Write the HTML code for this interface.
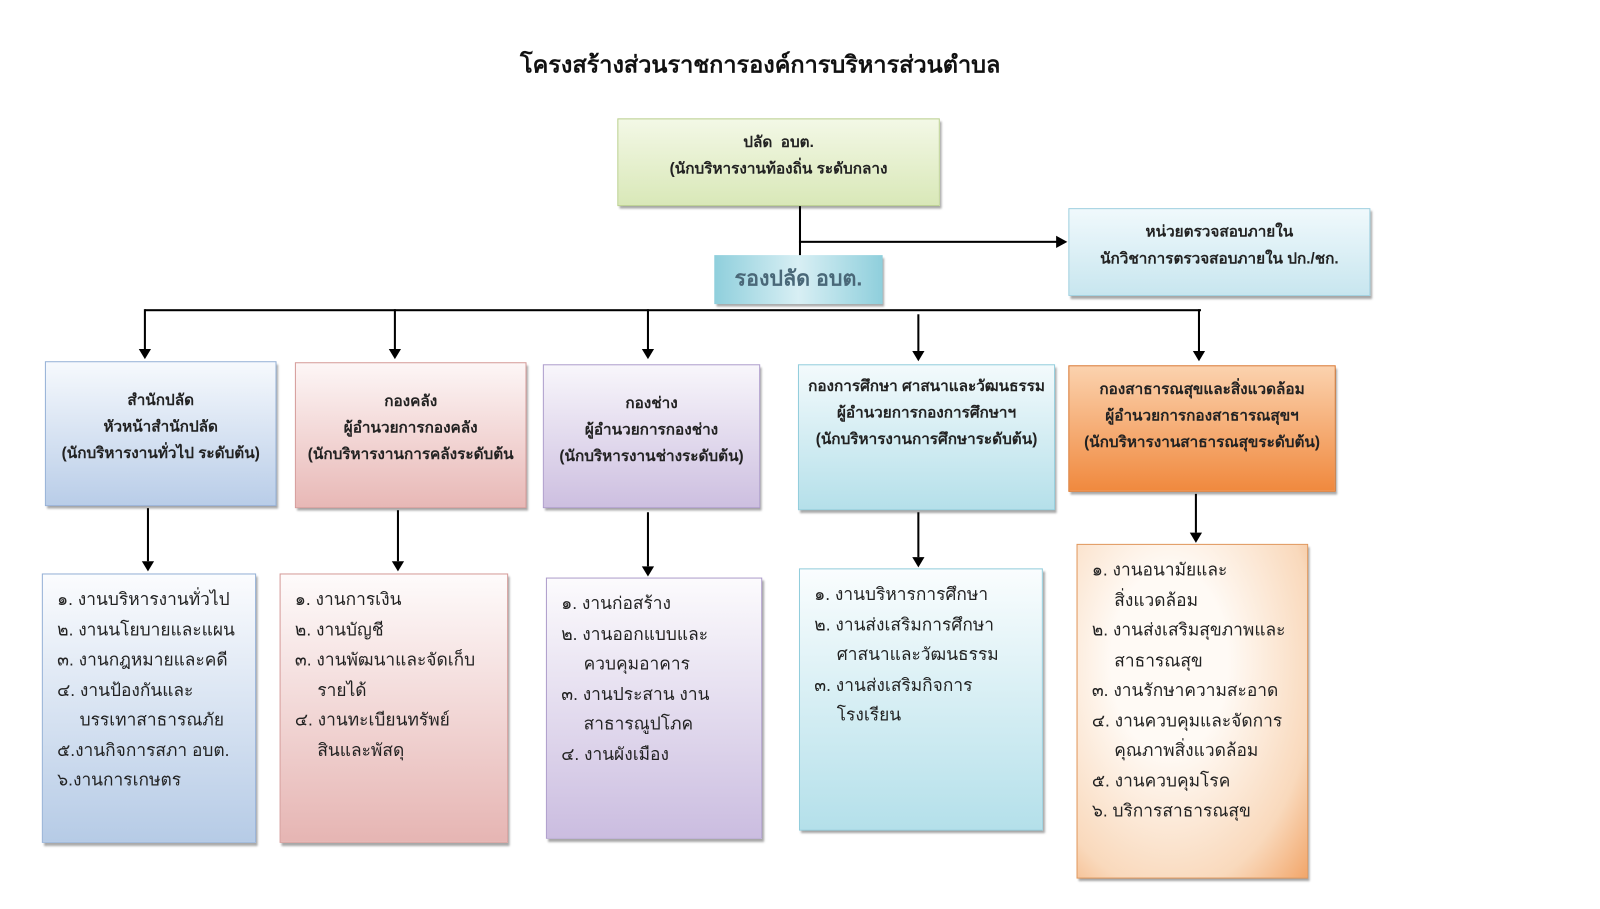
<!DOCTYPE html>
<html><head><meta charset="utf-8">
<style>
body{margin:0;width:1600px;height:891px;background:#fff;position:relative;overflow:hidden;font-family:"Liberation Sans","DejaVu Sans",sans-serif;color:#222}
#w{position:absolute;left:0;top:0;width:1600px;height:891px;transform:scale(1.0204);transform-origin:0 0}
.b{position:absolute;box-sizing:border-box;box-shadow:2px 3px 2px rgba(0,0,0,0.35);}
.h{text-align:center;font-weight:bold;font-size:15px;line-height:26px;color:#222}
.l{font-size:17px;line-height:29.5px;padding:10px 0 0 14px;color:#222}
.l div{white-space:nowrap}
.i{padding-left:22px}
.ln{position:absolute;background:#000}
.ar{position:absolute;width:0;height:0;border-left:6px solid transparent;border-right:6px solid transparent;border-top:10px solid #000}
</style></head><body><div id="w">
<div style="position:absolute;left:0;width:1490px;top:46px;text-align:center;font-size:23px;font-weight:bold;color:#111">โครงสร้างส่วนราชการองค์การบริหารส่วนตำบล</div>

<div class="b h" style="left:605px;top:116px;width:316px;height:86px;background:linear-gradient(#f3f8e6,#d9e8b8);border:1px solid #b9cf8c;padding-top:10px">ปลัด &nbsp;อบต.<br>(นักบริหารงานท้องถิ่น ระดับกลาง</div>

<div class="b h" style="left:1047px;top:204px;width:296px;height:86px;background:linear-gradient(#f0f9fc,#c8e6ef);border:1px solid #9ccfdf;padding-top:10px">หน่วยตรวจสอบภายใน<br>นักวิชาการตรวจสอบภายใน ปก./ชก.</div>

<div class="b" style="left:700px;top:250px;width:165px;height:48px;background:linear-gradient(90deg,#8fcfdc,#d8eff4 50%,#8fcfdc);text-align:center;font-weight:bold;font-size:21px;line-height:48px;color:#4a6878">รองปลัด อบต.</div>

<div class="ln" style="left:783px;top:202px;width:2px;height:48px"></div>
<div class="ln" style="left:783px;top:236px;width:254px;height:2px"></div>
<div style="position:absolute;left:1035px;top:231px;border-top:6px solid transparent;border-bottom:6px solid transparent;border-left:11px solid #000"></div>
<div class="ln" style="left:142px;top:303px;width:1035px;height:2px"></div>

<div class="ln" style="left:141px;top:303px;width:2px;height:40px"></div><div class="ar" style="left:136px;top:342px"></div>
<div class="ln" style="left:386px;top:303px;width:2px;height:40px"></div><div class="ar" style="left:381px;top:342px"></div>
<div class="ln" style="left:634px;top:303px;width:2px;height:40px"></div><div class="ar" style="left:629px;top:342px"></div>
<div class="ln" style="left:899px;top:308px;width:2px;height:37px"></div><div class="ar" style="left:894px;top:344px"></div>
<div class="ln" style="left:1174px;top:303px;width:2px;height:42px"></div><div class="ar" style="left:1169px;top:344px"></div>

<div class="b h" style="left:44px;top:354px;width:227px;height:142px;background:linear-gradient(#f6f9fd,#b9cde8);border:1px solid #94b0d6;padding-top:25px">สำนักปลัด<br>หัวหน้าสำนักปลัด<br>(นักบริหารงานทั่วไป ระดับต้น)</div>
<div class="b h" style="left:289px;top:355px;width:227px;height:143px;background:linear-gradient(#fdf6f6,#e8b8b6);border:1px solid #d59a98;padding-top:25px">กองคลัง<br>ผู้อำนวยการกองคลัง<br>(นักบริหารงานการคลังระดับต้น</div>
<div class="b h" style="left:532px;top:357px;width:213px;height:141px;background:linear-gradient(#f8f6fb,#cdbfe0);border:1px solid #ad9ccb;padding-top:25px">กองช่าง<br>ผู้อำนวยการกองช่าง<br>(นักบริหารงานช่างระดับต้น)</div>
<div class="b h" style="left:782px;top:357px;width:252px;height:143px;background:linear-gradient(#f3fafc,#b5e0ea);border:1px solid #92cddc;padding-top:8px">กองการศึกษา ศาสนาและวัฒนธรรม<br>ผู้อำนวยการกองการศึกษาฯ<br>(นักบริหารงานการศึกษาระดับต้น)</div>
<div class="b h" style="left:1047px;top:358px;width:262px;height:124px;background:linear-gradient(#fbd2ae,#f0893e);border:1px solid #d8732a;padding-top:10px">กองสาธารณสุขและสิ่งแวดล้อม<br>ผู้อำนวยการกองสาธารณสุขฯ<br>(นักบริหารงานสาธารณสุขระดับต้น)</div>

<div class="ln" style="left:144px;top:498px;width:2px;height:52px"></div><div class="ar" style="left:139px;top:550px"></div>
<div class="ln" style="left:389px;top:500px;width:2px;height:50px"></div><div class="ar" style="left:384px;top:550px"></div>
<div class="ln" style="left:634px;top:502px;width:2px;height:53px"></div><div class="ar" style="left:629px;top:555px"></div>
<div class="ln" style="left:899px;top:502px;width:2px;height:44px"></div><div class="ar" style="left:894px;top:546px"></div>
<div class="ln" style="left:1171px;top:484px;width:2px;height:38px"></div><div class="ar" style="left:1166px;top:522px"></div>

<div class="b l" style="left:41px;top:562px;width:210px;height:264px;background:linear-gradient(#fbfcfe,#b6cbe6);border:1px solid #94b0d6"><div>๑. งานบริหารงานทั่วไป</div><div>๒. งานนโยบายและแผน</div><div>๓. งานกฎหมายและคดี</div><div>๔. งานป้องกันและ</div><div class="i">บรรเทาสาธารณภัย</div><div>๕.งานกิจการสภา อบต.</div><div>๖.งานการเกษตร</div></div>
<div class="b l" style="left:274px;top:562px;width:224px;height:264px;background:linear-gradient(#fefbfb,#e6b5b3);border:1px solid #d59a98"><div>๑. งานการเงิน</div><div>๒. งานบัญชี</div><div>๓. งานพัฒนาและจัดเก็บ</div><div class="i">รายได้</div><div>๔. งานทะเบียนทรัพย์</div><div class="i">สินและพัสดุ</div></div>
<div class="b l" style="left:535px;top:566px;width:212px;height:256px;background:linear-gradient(#fcfbfd,#cbbde0);border:1px solid #ad9ccb"><div>๑. งานก่อสร้าง</div><div>๒. งานออกแบบและ</div><div class="i">ควบคุมอาคาร</div><div>๓. งานประสาน งาน</div><div class="i">สาธารณูปโภค</div><div>๔. งานผังเมือง</div></div>
<div class="b l" style="left:783px;top:557px;width:239px;height:257px;background:linear-gradient(#fafdfe,#b4e0ea);border:1px solid #92cddc"><div>๑. งานบริหารการศึกษา</div><div>๒. งานส่งเสริมการศึกษา</div><div class="i">ศาสนาและวัฒนธรรม</div><div>๓. งานส่งเสริมกิจการ</div><div class="i">โรงเรียน</div></div>
<div class="b l" style="left:1055px;top:533px;width:227px;height:328px;background:radial-gradient(ellipse at 40% 35%,#fffaf5 30%,#f9d9bc 75%,#f2a66a);border:1px solid #e0965a"><div>๑. งานอนามัยและ</div><div class="i">สิ่งแวดล้อม</div><div>๒. งานส่งเสริมสุขภาพและ</div><div class="i">สาธารณสุข</div><div>๓. งานรักษาความสะอาด</div><div>๔. งานควบคุมและจัดการ</div><div class="i">คุณภาพสิ่งแวดล้อม</div><div>๕. งานควบคุมโรค</div><div>๖. บริการสาธารณสุข</div></div>
</div></body></html>
